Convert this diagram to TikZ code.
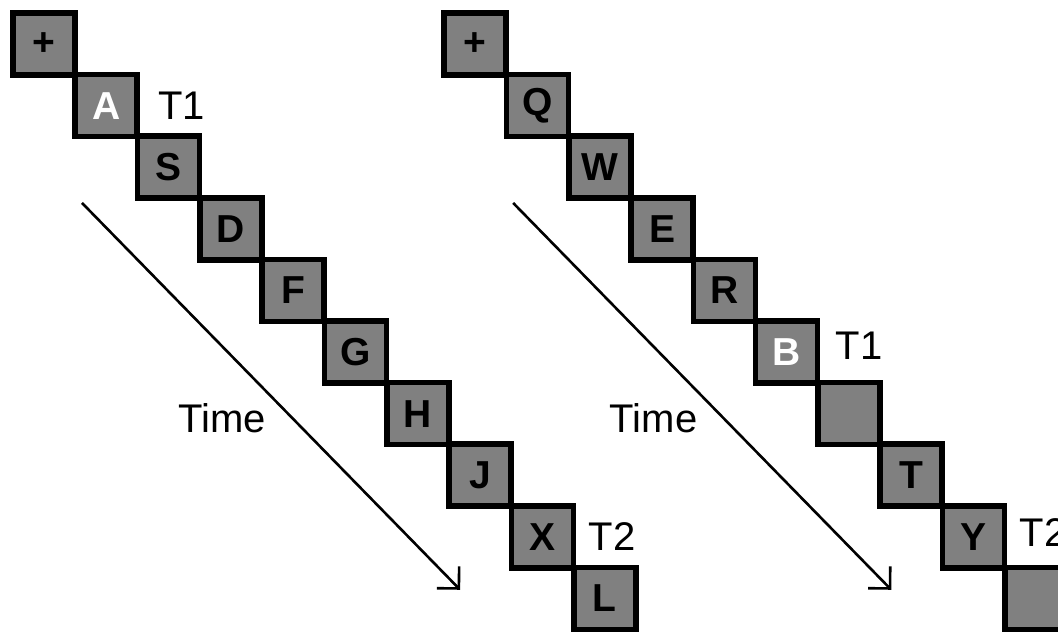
\documentclass[tikz,border=0pt]{standalone}
\usepackage{fontspec}
\setmainfont{Liberation Sans}
\usepackage{xcolor}
\usepackage{tikz}
\usetikzlibrary{arrows.meta,positioning}

\definecolor{cellgray}{RGB}{128,128,128}
\tikzset{
  cell/.style={shape=rectangle, draw=black, fill=cellgray, line width=2.8pt,
    minimum size=31pt, inner sep=0pt, font=\bfseries\fontsize{19.5}{22}\selectfont},
  hot/.style={text=white},
  tag/.style={inner sep=0pt, font=\fontsize{20}{24}\selectfont},
  timeline/.style={line width=1.3pt, -{Straight Barb[angle=90:11pt, line width=1.3pt]}}
}

\begin{document}
\begin{tikzpicture}[x=31.15pt, y=-30.8pt]
 \useasboundingbox (-0.706,-0.714) rectangle (16.276,9.562);
 % left queue
 \node (lplus) at (0,0) [cell] {+} ;
 \node (lA) at (1,1) [cell, hot] {A} ;
 \node (lS) at (2,2) [cell] {S} ;
 \node (lD) at (3,3) [cell] {D} ;
 \node (lF) at (4,4) [cell] {F} ;
 \node (lG) at (5,5) [cell] {G} ;
 \node (lH) at (6,6) [cell] {H} ;
 \node (lJ) at (7,7) [cell] {J} ;
 \node (lX) at (8,8) [cell] {X} ;
 \node (lL) at (9,9) [cell] {L} ;
 \node (lt1) [tag, right=9pt of lA] {T1} ;
 \node (lt2) [tag, right=6pt of lX] {T2} ;
 \coordinate (lstart) at (0.61,2.58) ;
 \coordinate (lend) at (6.68,8.86) ;
 \draw [timeline] (lstart) -- (lend) ;
 \node (ltime) at (2.865,6.07) [tag] {Time} ;

 % right queue
 \node (rplus) at (6.92,0) [cell] {+} ;
 \node (rQ) at (7.92,1) [cell] {Q} ;
 \node (rW) at (8.92,2) [cell] {W} ;
 \node (rE) at (9.92,3) [cell] {E} ;
 \node (rR) at (10.92,4) [cell] {R} ;
 \node (rB) at (11.92,5) [cell, hot] {B} ;
 \node (rgap1) at (12.92,6) [cell] {} ;
 \node (rT) at (13.92,7) [cell] {T} ;
 \node (rY) at (14.92,8) [cell] {Y} ;
 \node (rgap2) at (15.92,9) [cell] {} ;
 \node (rt1) [tag, right=7.5pt of rB, yshift=3pt] {T1} ;
 \node (rt2) [tag, right=6pt of rY, yshift=2pt] {T2} ;
 \coordinate (rstart) at (7.53,2.58) ;
 \coordinate (rend) at (13.60,8.86) ;
 \draw [timeline] (rstart) -- (rend) ;
 \node (rtime) at (9.785,6.07) [tag] {Time} ;
\end{tikzpicture}
\end{document}
